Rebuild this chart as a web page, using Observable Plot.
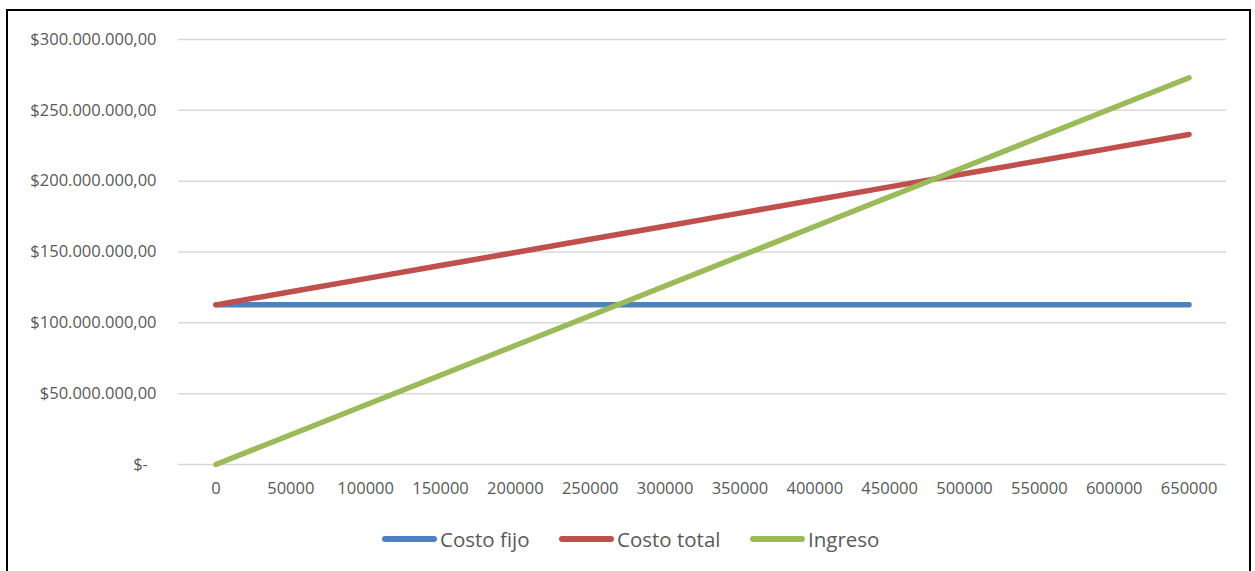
<!DOCTYPE html>
<html>
<head>
<meta charset="utf-8">
<script src="https://cdn.jsdelivr.net/npm/d3@7"></script>
<script src="https://cdn.jsdelivr.net/npm/@observablehq/plot@0.6"></script>
<style>
  html, body { margin: 0; padding: 0; background: #fff; overflow: hidden; }
  body { width: 1255px; height: 571px; position: relative; font-family: "Open Sans", sans-serif; }
  #frame { position: absolute; left: 6px; top: 9px; width: 1241px; height: 620px; border: 2px solid #000; }
  #chart { position: absolute; left: 0; top: 0; }
  #legend { position: absolute; left: 0; top: 525px; width: 1255px; height: 28px; }
  .item { position: absolute; top: 0; display: flex; align-items: center; height: 28px; }
  .swatch { width: 55px; height: 5.5px; border-radius: 3px; margin-right: 3px; }
  .label { font-size: 20.5px; color: #595959; line-height: 28px; }
</style>
</head>
<body>
<div id="frame"></div>
<div id="chart"></div>
<div id="legend"></div>
<script>
// Units produced (category axis)
const unidades = [0, 50000, 100000, 150000, 200000, 250000, 300000, 350000, 400000, 450000, 500000, 550000, 600000, 650000];

// Fixed cost stays flat
const costoFijo = [112700000, 112700000, 112700000, 112700000, 112700000, 112700000, 112700000,
                   112700000, 112700000, 112700000, 112700000, 112700000, 112700000, 112700000];

// Total cost = fixed + variable
const costoTotal = [112700000, 121950000, 131200000, 140450000, 149700000, 158950000, 168200000,
                    177450000, 186700000, 195950000, 205200000, 214450000, 223700000, 232950000];

// Revenue
const ingreso = [0, 21000000, 42000000, 63000000, 84000000, 105000000, 126000000,
                 147000000, 168000000, 189000000, 210000000, 231000000, 252000000, 273000000];

const yTicks = [0, 50000000, 100000000, 150000000, 200000000, 250000000, 300000000];

const series = [
  { name: "Costo fijo", values: costoFijo, color: "#4F81BD" },
  { name: "Costo total", values: costoTotal, color: "#C0504D" },
  { name: "Ingreso", values: ingreso, color: "#9BBB59" }
];

const rows = series.flatMap(s => s.values.map((v, i) => ({ serie: s.name, x: String(unidades[i]), y: v })));

const locale = d3.formatLocale({ decimal: ",", thousands: ".", grouping: [3], currency: ["$", ""] });
const money = locale.format("$,.2f");
const fmtY = d => d === 0 ? "$-\u00a0\u00a0" : money(d);

const chart = Plot.plot({
  width: 1255,
  height: 500,
  marginLeft: 178,
  marginRight: 29,
  marginTop: 39,
  marginBottom: 36,
  style: { fontFamily: "Open Sans, sans-serif", fontSize: "16.5px", color: "#595959", background: "transparent" },
  x: { type: "point", domain: unidades.map(String), padding: 0.5, round: false, label: null },
  y: { domain: [0, 300000000], label: null },
  color: { domain: series.map(s => s.name), range: series.map(s => s.color) },
  marks: [
    Plot.ruleY(yTicks, { stroke: "#D9D9D9", strokeWidth: 1.5 }),
    Plot.axisY(yTicks, { tickSize: 0, tickPadding: 22, tickFormat: fmtY, fill: "#595959", fontSize: 16.5, label: null }),
    Plot.axisX({ tickSize: 0, tickPadding: 18, fill: "#595959", fontSize: 16.5, label: null }),
    Plot.line(rows, { x: "x", y: "y", z: "serie", stroke: "serie", strokeWidth: 5.5, strokeLinecap: "round", strokeLinejoin: "round" })
  ]
});
document.getElementById("chart").appendChild(chart);

// Legend below the chart
const legend = document.getElementById("legend");
const lefts = [382, 559, 750];
series.forEach((s, i) => {
  const item = document.createElement("div");
  item.className = "item";
  item.style.left = lefts[i] + "px";
  const sw = document.createElement("div");
  sw.className = "swatch";
  sw.style.background = s.color;
  const lb = document.createElement("span");
  lb.className = "label";
  lb.textContent = s.name;
  item.appendChild(sw);
  item.appendChild(lb);
  legend.appendChild(item);
});
</script>
</body>
</html>
